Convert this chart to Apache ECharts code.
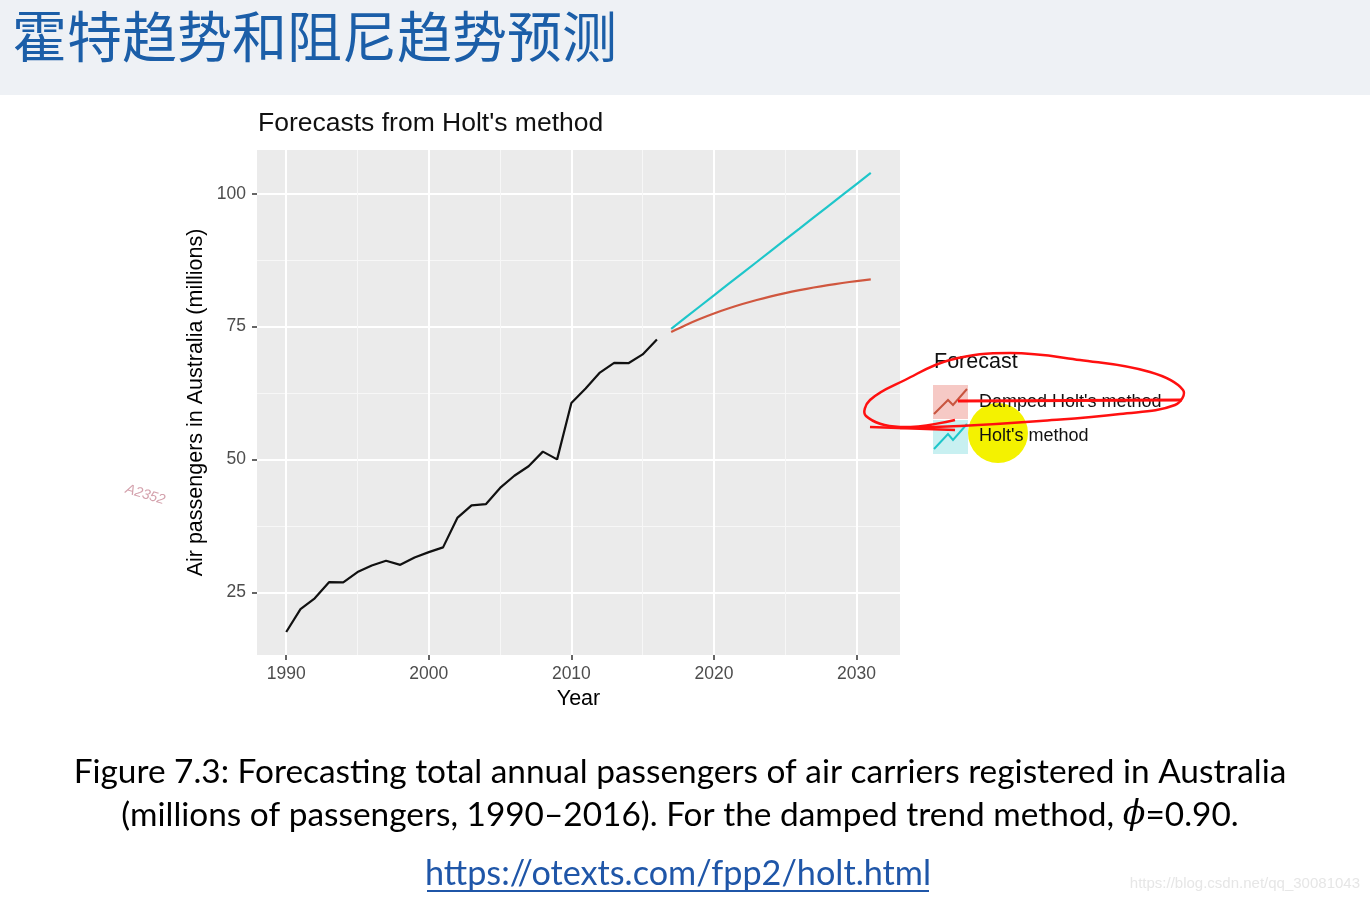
<!DOCTYPE html>
<html>
<head>
<meta charset="utf-8">
<title>Holt forecasts</title>
<script src="https://cdn.jsdelivr.net/npm/echarts@6/dist/echarts.min.js"></script>
<style>
  html, body { margin: 0; padding: 0; background: #fff; }
  #main { width: 1370px; height: 904px; }
</style>
</head>
<body>
<div id="main"></div>
<script>
// observed series (ausair, 1990-2016)
const years = [1990, 1991, 1992, 1993, 1994, 1995, 1996, 1997, 1998, 1999,
  2000, 2001, 2002, 2003, 2004, 2005, 2006, 2007, 2008, 2009,
  2010, 2011, 2012, 2013, 2014, 2015, 2016];
const passengers = [17.55, 21.86, 23.89, 26.93, 26.89, 28.83, 30.08, 30.95, 30.19, 31.58,
  32.58, 33.48, 39.02, 41.39, 41.60, 44.66, 46.95, 48.73, 51.49, 50.03,
  60.64, 63.36, 66.36, 68.20, 68.12, 69.78, 72.60];

// forecasts 2017-2031
const fcYears = [2017, 2018, 2019, 2020, 2021, 2022, 2023, 2024, 2025, 2026,
  2027, 2028, 2029, 2030, 2031];
const holt = [74.60, 76.70, 78.79, 80.88, 82.98, 85.07, 87.16, 89.26, 91.35, 93.44,
  95.54, 97.63, 99.72, 101.82, 103.91];
const damped = [74.00, 75.28, 76.44, 77.48, 78.41, 79.25, 80.01, 80.69, 81.31, 81.86,
  82.36, 82.81, 83.21, 83.57, 83.90];

// axis ticks
const xMajor = [1990, 2000, 2010, 2020, 2030];
const xMinor = [1995, 2005, 2015, 2025];
const yMajor = [25, 50, 75, 100];
const yMinor = [37.5, 62.5, 87.5];

const toPairs = (xs, ys) => xs.map((x, i) => [x, ys[i]]);

(function () {
  let dom = document.querySelector("#main");
  let myChart = echarts.init(dom);

  const tickColor = "#333";
  const labelColor = "#4d4d4d";

  const xBase = { type: "value", position: "bottom", min: 1987.95, max: 2033.05, gridIndex: 0 };
  const yBase = { type: "value", position: "left", min: 13.23, max: 108.23, gridIndex: 0 };

  let options = {
    animation: false,
    grid: {
      left: 257, right: 470, top: 150, bottom: 249,
      show: true,
      backgroundColor: "#ebebeb",
      borderWidth: 0
    },
    xAxis: [
      // minor grid lines
      Object.assign({}, xBase, {
        axisLine: { show: false },
        axisTick: { show: false, customValues: xMinor },
        axisLabel: { show: false, customValues: xMinor },
        splitLine: { show: true, lineStyle: { color: "#f7f7f7", width: 1 } }
      }),
      // major grid lines + labels
      Object.assign({}, xBase, {
        name: "Year",
        nameLocation: "middle",
        nameGap: 33,
        nameTextStyle: { color: "#000", fontSize: 21.5, fontFamily: "Liberation Sans" },
        axisLine: { show: false },
        axisTick: { show: true, length: 5, customValues: xMajor,
          lineStyle: { color: tickColor, width: 1.5 } },
        axisLabel: { customValues: xMajor, color: labelColor, fontSize: 17.5,
          margin: 10, fontFamily: "Liberation Sans", formatter: (v) => String(v) },
        splitLine: { show: true, lineStyle: { color: "#ffffff", width: 2 } }
      })
    ],
    yAxis: [
      Object.assign({}, yBase, {
        axisLine: { show: false },
        axisTick: { show: false, customValues: yMinor },
        axisLabel: { show: false, customValues: yMinor },
        splitLine: { show: true, lineStyle: { color: "#f7f7f7", width: 1 } }
      }),
      Object.assign({}, yBase, {
        name: "Air passengers in Australia (millions)",
        nameLocation: "middle",
        nameGap: 50,
        nameRotate: 90,
        nameTextStyle: { color: "#000", fontSize: 21.5, fontFamily: "Liberation Sans" },
        axisLine: { show: false },
        axisTick: { show: true, length: 5, customValues: yMajor,
          lineStyle: { color: tickColor, width: 1.5 } },
        axisLabel: { customValues: yMajor, color: labelColor, fontSize: 17.5,
          margin: 11, fontFamily: "Liberation Sans", formatter: (v) => String(v) },
        splitLine: { show: true, lineStyle: { color: "#ffffff", width: 2 } }
      })
    ],
    series: [
      {
        name: "Observed",
        type: "line",
        xAxisIndex: 1, yAxisIndex: 1,
        data: toPairs(years, passengers),
        showSymbol: false,
        lineStyle: { color: "#111", width: 2.2 }
      },
      {
        name: "Holt's method",
        type: "line",
        xAxisIndex: 1, yAxisIndex: 1,
        data: toPairs(fcYears, holt),
        showSymbol: false,
        lineStyle: { color: "#1ec6ca", width: 2.2 }
      },
      {
        name: "Damped Holt's method",
        type: "line",
        xAxisIndex: 1, yAxisIndex: 1,
        data: toPairs(fcYears, damped),
        showSymbol: false,
        smooth: 0.3,
        lineStyle: { color: "#d0573f", width: 2.2 }
      }
    ],
    graphic: [
      // slide banner
      { type: "rect", z: 0, shape: { x: 0, y: 0, width: 1370, height: 95 },
        style: { fill: "#eef1f5" } },
      { type: "text", left: 12, top: 9,
        style: { text: "霍特趋势和阻尼趋势预测", fill: "#1b5ea8", fontSize: 55,
          fontFamily: "Noto Sans CJK SC" } },
      // plot title
      { type: "text", left: 258, top: 110,
        style: { text: "Forecasts from Holt's method", fill: "#111", fontSize: 26.5,
          fontFamily: "Liberation Sans" } },
      // legend
      { type: "text", left: 934, top: 351,
        style: { text: "Forecast", fill: "#111", fontSize: 21.5, fontFamily: "Liberation Sans" } },
      { type: "rect", shape: { x: 933, y: 385, width: 35, height: 34 },
        style: { fill: "#f6c9c5" } },
      { type: "rect", shape: { x: 933, y: 420, width: 35, height: 34 },
        style: { fill: "#c8f0f1" } },
      { type: "circle", z: 5, shape: { cx: 998, cy: 433, r: 30 },
        style: { fill: "#f4f200" } },
      { type: "polyline", z: 6, shape: { points: [[934, 414], [948, 400], [953, 405], [967, 389]] },
        style: { stroke: "#c8553f", lineWidth: 2, fill: null } },
      { type: "polyline", z: 6, shape: { points: [[934, 449], [948, 434], [953, 440], [967, 424]] },
        style: { stroke: "#1ec6ca", lineWidth: 2, fill: null } },
      { type: "text", z: 7, left: 979, top: 393,
        style: { text: "Damped Holt's method", fill: "#111", fontSize: 18, fontFamily: "Liberation Sans" } },
      { type: "text", z: 7, left: 979, top: 427,
        style: { text: "Holt's method", fill: "#111", fontSize: 18, fontFamily: "Liberation Sans" } },
      // red hand-drawn annotation
      { type: "polyline", z: 8,
        shape: { smooth: 0.4, points: [[955, 420], [900, 427], [866, 416], [870, 400], [905, 380],
          [950, 360], [1010, 353], [1080, 360], [1150, 372], [1183, 390], [1175, 405],
          [1120, 414], [1040, 421], [960, 426], [900, 428]] },
        style: { stroke: "#ff1010", lineWidth: 2.5, fill: null } },
      { type: "line", z: 8, shape: { x1: 958, y1: 401, x2: 1182, y2: 400 },
        style: { stroke: "#ff1010", lineWidth: 3 } },
      { type: "line", z: 8, shape: { x1: 870, y1: 427, x2: 955, y2: 430 },
        style: { stroke: "#ff1010", lineWidth: 2.5 } },
      // watermarks
      { type: "text", x: 128, y: 482, rotation: -0.3,
        style: { text: "A2352", fill: "#d4a2ad", fontSize: 14, fontStyle: "italic",
          fontFamily: "Liberation Sans" } },
      { type: "text", right: 10, top: 876,
        style: { text: "https://blog.csdn.net/qq_30081043", fill: "#e6e6e6", fontSize: 15,
          fontFamily: "Liberation Sans" } },
      // caption
      { type: "text", x: 680, y: 772,
        style: { text: "Figure 7.3: Forecasting total annual passengers of air carriers registered in Australia",
          align: "center", verticalAlign: "middle",
          fill: "#000", fontSize: 33.4, fontFamily: "Lato" } },
      { type: "text", x: 680, y: 815,
        style: { rich: { n: { fontSize: 33.4, fontFamily: "Lato", fill: "#000" },
                         i: { fontSize: 33.4, fontFamily: "DejaVu Serif", fontStyle: "italic", fill: "#000" } },
          align: "center", verticalAlign: "middle",
          text: "{n|(millions of passengers, 1990–2016). For the damped trend method, }{i|ϕ}{n|=0.90.}" } },
      { type: "text", x: 678, y: 874,
        style: { text: "https://otexts.com/fpp2/holt.html", align: "center", verticalAlign: "middle",
          fill: "#1f56a8", fontSize: 34.2, fontFamily: "Lato" } },
      { type: "line", shape: { x1: 427, y1: 891, x2: 929, y2: 891 },
        style: { stroke: "#1f56a8", lineWidth: 2 } }
    ]
  };
  myChart.setOption(options);
  window.addEventListener("resize", () => {
    myChart.resize();
  });
})();
</script>
</body>
</html>
